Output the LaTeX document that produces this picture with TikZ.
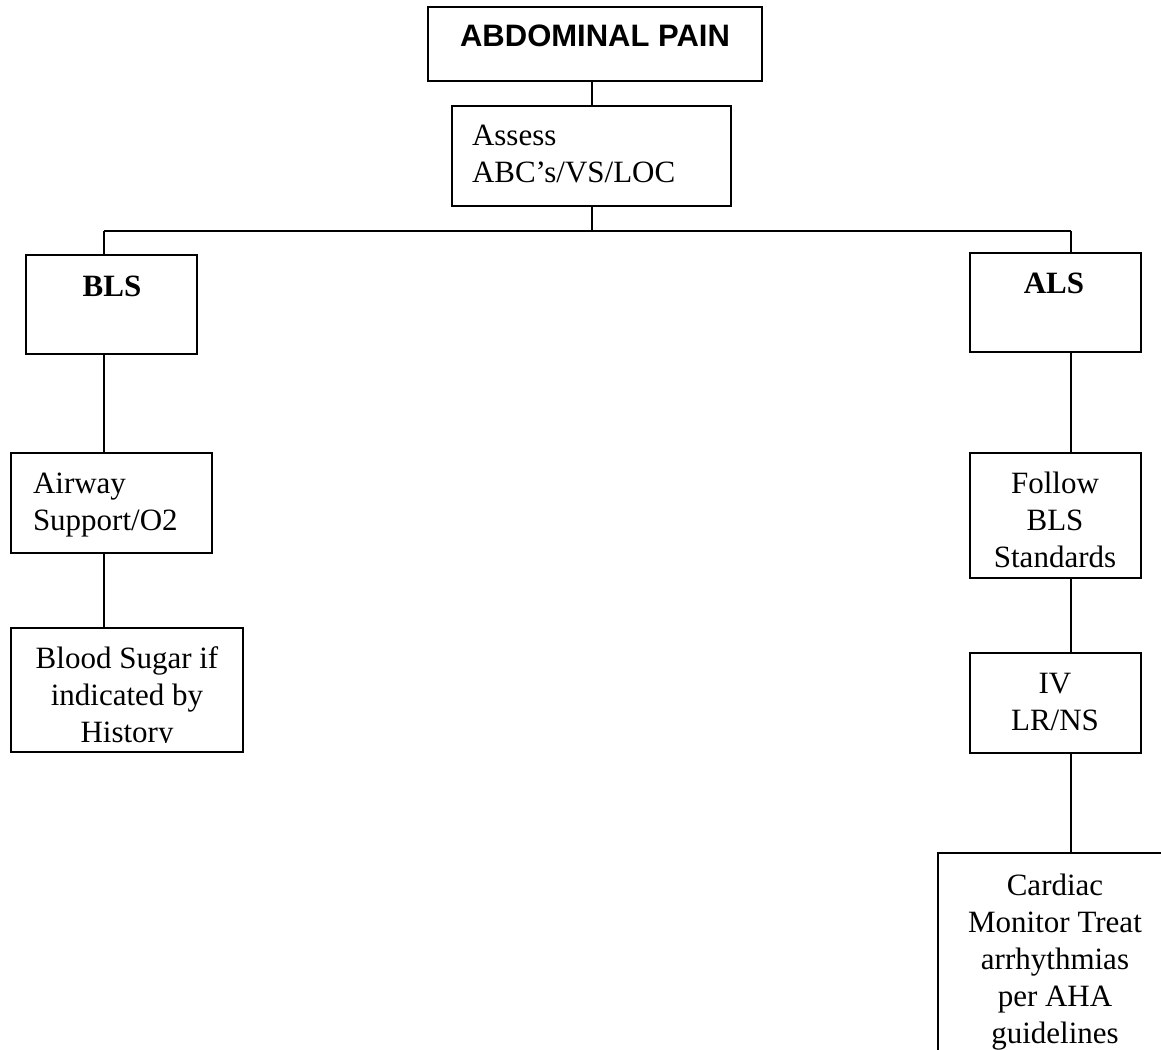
\documentclass[tikz,border=0pt]{standalone}
\usepackage{fontspec}
\setmainfont{Liberation Serif}
\newfontfamily\sansb{Liberation Sans}
\begin{document}
\begin{tikzpicture}[x=1pt,y=-1pt,
  box/.style={draw, line width=1.4pt, inner sep=0pt, outer sep=0pt, rectangle},
  txt/.style={inner sep=0pt, outer sep=0pt, font=\fontsize{31}{37}\selectfont},
  link/.style={line width=1.4pt}]
\clip (0,0) rectangle (1161,1049);
\fill[white] (0,0) rectangle (1161,1049);
% boxes
\node[box, minimum width=334pt, minimum height=74pt]  (top)    at (595,44) {};
\node[box, minimum width=279pt, minimum height=100pt] (assess) at (591.5,156) {};
\node[box, minimum width=171pt, minimum height=99pt]  (bls)    at (111.5,304.5) {};
\node[box, minimum width=201pt, minimum height=100pt] (air)    at (111.5,503) {};
\node[box, minimum width=232pt, minimum height=124pt] (sugar)  at (127,690) {};
\node[box, minimum width=171pt, minimum height=99pt]  (als)    at (1055.5,302.5) {};
\node[box, minimum width=171pt, minimum height=125pt] (follow) at (1055.5,515.5) {};
\node[box, minimum width=171pt, minimum height=100pt] (iv)     at (1055.5,703) {};
\node[box, minimum width=234pt, minimum height=260pt] (card)   at (1055,983) {};
% texts
\node[txt, anchor=base] (ttop) at (595,47) {\sansb\bfseries ABDOMINAL PAIN};
\node[txt, anchor=base west] (tassess) at (472,145) {\begin{tabular}[t]{@{}l@{}}Assess\\ABC’s/VS/LOC\end{tabular}};
\node[txt, anchor=base] (tbls) at (112,296) {\bfseries BLS};
\node[txt, anchor=base west] (tair) at (33,493) {\begin{tabular}[t]{@{}l@{}}Airway\\Support/O2\end{tabular}};
\begin{scope}
\clip (11,628) rectangle (243,742);
\node[txt, anchor=base] (tsugar) at (127,668) {\begin{tabular}[t]{@{}c@{}}Blood Sugar if\\indicated by\\History\end{tabular}};
\end{scope}
\node[txt, anchor=base] (tals) at (1054,293) {\bfseries ALS};
\node[txt, anchor=base] (tfollow) at (1055,493) {\begin{tabular}[t]{@{}c@{}}Follow\\BLS\\Standards\end{tabular}};
\node[txt, anchor=base] (tiv) at (1055,693) {\begin{tabular}[t]{@{}c@{}}IV\\LR/NS\end{tabular}};
\node[txt, anchor=base] (tcard) at (1055,895) {\begin{tabular}[t]{@{}c@{}}Cardiac\\Monitor Treat\\arrhythmias\\per AHA\\guidelines\end{tabular}};
% connectors
\coordinate (mx) at (592,231);
\coordinate (lx) at (104,231);
\coordinate (rx) at (1071,231);
\draw[link] (top.south -| mx) -- (assess.north -| mx);
\draw[link] (assess.south -| mx) -- (mx);
\draw[link] (lx) -- (rx);
\draw[link] (lx) -- (bls.north -| lx);
\draw[link] (bls.south -| lx) -- (air.north -| lx);
\draw[link] (air.south -| lx) -- (sugar.north -| lx);
\draw[link] (rx) -- (als.north -| rx);
\draw[link] (als.south -| rx) -- (follow.north -| rx);
\draw[link] (follow.south -| rx) -- (iv.north -| rx);
\draw[link] (iv.south -| rx) -- (card.north -| rx);
\end{tikzpicture}
\end{document}
